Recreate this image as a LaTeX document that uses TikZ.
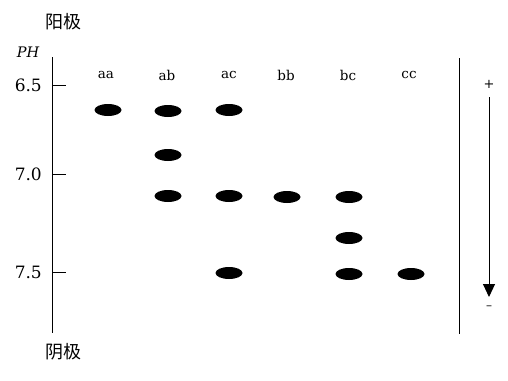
\documentclass[tikz,border=0pt]{standalone}
\usepackage{fontspec}
\newfontfamily\cjk{Noto Sans CJK SC}
\newfontfamily\lab{DejaVu Serif}
\usetikzlibrary{arrows.meta,shapes.geometric}
\begin{document}
\begin{tikzpicture}[x=1pt,y=-1pt,
  band/.style={ellipse,fill=black,minimum width=27pt,minimum height=12pt,inner sep=0pt},
  axislbl/.style={anchor=east,font=\lab\fontsize{17}{19}\selectfont,inner sep=0pt},
  collbl/.style={font=\lab\fontsize{13.5}{15}\selectfont,inner sep=0pt},
  cn/.style={font=\cjk\fontsize{18}{20}\selectfont,inner sep=0pt}]
\useasboundingbox (0,0) rectangle (508,380);
\node[cn] (anode) at (63,22) {阳极};
\node[cn] (cathode) at (63,352) {阴极};
\node[font=\lab\itshape\fontsize{14.5}{16}\selectfont,inner sep=0pt] (ph) at (28,52) {PH};
% axis
\coordinate (atop) at (52,57);
\coordinate (abot) at (52,333);
\draw[line width=1pt] (atop) -- (abot);
\coordinate (t65) at (52,85); \coordinate (t65e) at (66,85);
\coordinate (t70) at (52,174); \coordinate (t70e) at (66,174);
\coordinate (t75) at (52,272); \coordinate (t75e) at (66,272);
\draw[line width=0.9pt] (t65) -- (t65e);
\draw[line width=0.9pt] (t70) -- (t70e);
\draw[line width=0.9pt] (t75) -- (t75e);
\node[axislbl] (l65) at (42,85) {6.5};
\node[axislbl] (l70) at (42,174) {7.0};
\node[axislbl] (l75) at (42,272) {7.5};
% column labels
\node[collbl] (caa) at (106,75) {aa};
\node[collbl] (cab) at (167,75) {ab};
\node[collbl] (cac) at (229,75) {ac};
\node[collbl] (cbb) at (286,75) {bb};
\node[collbl] (cbc) at (348,75) {bc};
\node[collbl] (ccc) at (409,75) {cc};
% bands
\node[band] (b1) at (108,110) {};
\node[band] (b2) at (168,111) {};
\node[band] (b3) at (229,110) {};
\node[band] (b4) at (168,155) {};
\node[band] (b5) at (168,196) {};
\node[band] (b6) at (229,196) {};
\node[band] (b7) at (287,197) {};
\node[band] (b8) at (349,197) {};
\node[band] (b9) at (349,238) {};
\node[band] (b10) at (229,273) {};
\node[band] (b11) at (349,274) {};
\node[band] (b12) at (411,274) {};
% right line
\coordinate (rtop) at (459,58);
\coordinate (rbot) at (459,334);
\draw[line width=1pt] (rtop) -- (rbot);
% arrow
\node[inner sep=0pt,font=\lab\fontsize{13}{15}\selectfont] (plus) at (489,84) {+};
\node[inner sep=0pt,font=\lab\fontsize{12}{14}\selectfont] (minus) at (489,308) {–};
\coordinate (ars) at (489,97);
\coordinate (are) at (489,297);
\draw[line width=1pt,-{Triangle[length=13pt,width=12pt]}] (ars) -- (are);
\end{tikzpicture}
\end{document}
